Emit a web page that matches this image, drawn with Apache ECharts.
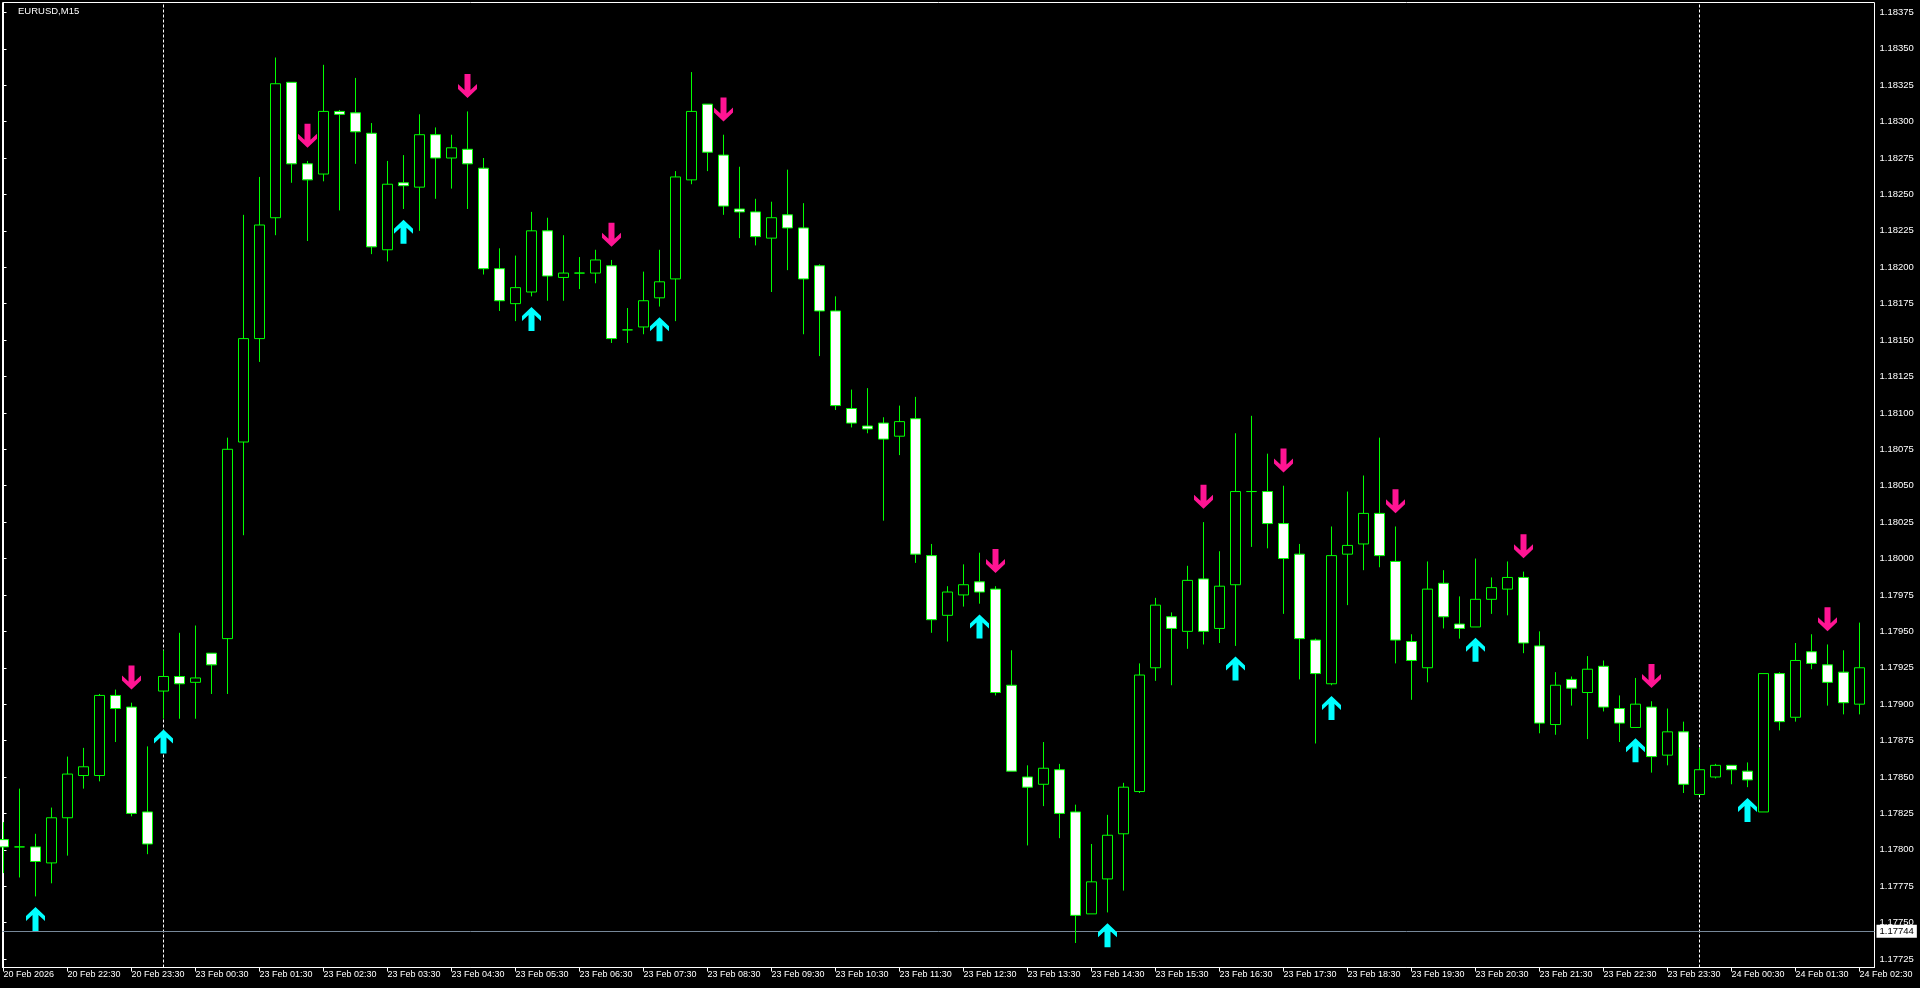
<!DOCTYPE html>
<html>
<head>
<meta charset="utf-8">
<script src="https://cdn.jsdelivr.net/npm/echarts@6/dist/echarts.min.js"></script>
<style>
html,body{margin:0;padding:0;background:#000;}
#chart{width:1920px;height:988px;}
</style>
</head>
<body>
<div id="chart"></div>
<script>
// ---- data (EURUSD, M15) ----
const opens = [
1.17807,1.17802,1.17802,1.17791,1.17822,1.17851,1.17851,1.17906,1.17898,1.17826,
1.17909,1.17919,1.17915,1.17935,1.17945,1.18080,1.18151,1.18234,1.18327,1.18271,
1.18264,1.18307,1.18306,1.18292,1.18212,1.18258,1.18255,1.18291,1.18275,1.18281,
1.18268,1.18199,1.18175,1.18183,1.18225,1.18193,1.18196,1.18196,1.18201,1.18157,
1.18159,1.18179,1.18192,1.18260,1.18312,1.18277,1.18240,1.18238,1.18220,1.18236,
1.18227,1.18201,1.18170,1.18103,1.18091,1.18093,1.18084,1.18096,1.18002,1.17961,
1.17975,1.17984,1.17979,1.17913,1.17850,1.17845,1.17855,1.17826,1.17756,1.17780,
1.17811,1.17840,1.17925,1.17960,1.17950,1.17986,1.17952,1.17982,1.18046,1.18046,
1.18024,1.18003,1.17944,1.17914,1.18003,1.18010,1.18031,1.17998,1.17943,1.17925,
1.17983,1.17955,1.17953,1.17972,1.17979,1.17987,1.17940,1.17886,1.17917,1.17908,
1.17926,1.17897,1.17884,1.17898,1.17865,1.17881,1.17838,1.17850,1.17858,1.17854,
1.17826,1.17921,1.17891,1.17936,1.17927,1.17922,1.17900];
const highs = [
1.17819,1.17842,1.17811,1.17829,1.17864,1.17870,1.17907,1.17910,1.17901,1.17871,
1.17937,1.17949,1.17954,1.17935,1.18083,1.18236,1.18262,1.18344,1.18327,1.18273,
1.18339,1.18308,1.18330,1.18299,1.18273,1.18277,1.18305,1.18296,1.18291,1.18307,
1.18275,1.18213,1.18208,1.18238,1.18234,1.18222,1.18207,1.18212,1.18205,1.18172,
1.18197,1.18212,1.18266,1.18334,1.18312,1.18291,1.18269,1.18247,1.18245,1.18267,
1.18244,1.18202,1.18180,1.18116,1.18117,1.18097,1.18105,1.18111,1.18010,1.17981,
1.17996,1.18004,1.17981,1.17937,1.17858,1.17874,1.17859,1.17831,1.17804,1.17824,
1.17846,1.17928,1.17973,1.17963,1.17995,1.18025,1.18005,1.18086,1.18098,1.18072,
1.18050,1.18010,1.17945,1.18022,1.18046,1.18057,1.18083,1.18022,1.17948,1.17998,
1.17992,1.17974,1.18000,1.17987,1.17998,1.17991,1.17950,1.17922,1.17919,1.17933,
1.17930,1.17906,1.17918,1.17902,1.17897,1.17888,1.17870,1.17859,1.17858,1.17860,
1.17921,1.17922,1.17942,1.17948,1.17941,1.17937,1.17956];
const lows = [
1.17784,1.17781,1.17768,1.17777,1.17796,1.17842,1.17847,1.17874,1.17823,1.17797,
1.17890,1.17890,1.17890,1.17907,1.17907,1.18016,1.18135,1.18222,1.18258,1.18218,
1.18259,1.18239,1.18271,1.18209,1.18204,1.18240,1.18225,1.18247,1.18254,1.18240,
1.18195,1.18170,1.18163,1.18180,1.18177,1.18177,1.18185,1.18189,1.18148,1.18148,
1.18154,1.18173,1.18163,1.18257,1.18266,1.18236,1.18220,1.18215,1.18183,1.18198,
1.18154,1.18139,1.18102,1.18090,1.18086,1.18026,1.18071,1.17997,1.17949,1.17943,
1.17967,1.17969,1.17906,1.17854,1.17803,1.17830,1.17808,1.17736,1.17756,1.17757,
1.17772,1.17839,1.17916,1.17913,1.17938,1.17941,1.17942,1.17940,1.18008,1.18007,
1.17962,1.17917,1.17873,1.17913,1.17968,1.17992,1.17994,1.17928,1.17903,1.17915,
1.17952,1.17945,1.17953,1.17962,1.17961,1.17935,1.17880,1.17879,1.17899,1.17876,
1.17895,1.17874,1.17884,1.17853,1.17858,1.17839,1.17838,1.17849,1.17845,1.17843,
1.17826,1.17882,1.17888,1.17924,1.17899,1.17893,1.17893];
const closes = [
1.17802,1.17802,1.17792,1.17822,1.17852,1.17857,1.17906,1.17897,1.17825,1.17804,
1.17919,1.17914,1.17918,1.17927,1.18075,1.18151,1.18229,1.18326,1.18271,1.18260,
1.18307,1.18305,1.18293,1.18214,1.18257,1.18256,1.18291,1.18275,1.18282,1.18271,
1.18199,1.18177,1.18186,1.18225,1.18194,1.18196,1.18196,1.18205,1.18151,1.18157,
1.18177,1.18190,1.18262,1.18307,1.18279,1.18242,1.18238,1.18221,1.18234,1.18227,
1.18192,1.18170,1.18105,1.18093,1.18089,1.18082,1.18094,1.18003,1.17958,1.17977,
1.17982,1.17977,1.17908,1.17854,1.17843,1.17856,1.17825,1.17755,1.17778,1.17810,
1.17843,1.17920,1.17968,1.17952,1.17985,1.17950,1.17981,1.18046,1.18046,1.18024,
1.18000,1.17945,1.17921,1.18002,1.18009,1.18031,1.18002,1.17944,1.17930,1.17979,
1.17960,1.17952,1.17972,1.17980,1.17987,1.17942,1.17887,1.17913,1.17911,1.17924,
1.17898,1.17887,1.17900,1.17864,1.17881,1.17845,1.17855,1.17858,1.17855,1.17848,
1.17921,1.17888,1.17930,1.17928,1.17915,1.17901,1.17925];

// signal arrows (bar indexes)
const upArrowBars   = [2, 10, 25, 33, 41, 61, 69, 77, 83, 92, 102, 109];
const downArrowBars = [8, 19, 29, 38, 45, 62, 75, 80, 87, 95, 103, 114];

// day separators (bar indexes) and bid line
const daySeparatorBars = [10, 106];
const bidPrice = 1.17744;

// x tick labels (one every 4 bars)
const xTickBars = [0,4,8,12,16,20,24,28,32,36,40,44,48,52,56,60,64,68,72,76,80,84,88,92,96,100,104,108,112,116];
const xTickLabels = [
'20 Feb 2026','20 Feb 22:30','20 Feb 23:30','23 Feb 00:30','23 Feb 01:30','23 Feb 02:30',
'23 Feb 03:30','23 Feb 04:30','23 Feb 05:30','23 Feb 06:30','23 Feb 07:30','23 Feb 08:30',
'23 Feb 09:30','23 Feb 10:30','23 Feb 11:30','23 Feb 12:30','23 Feb 13:30','23 Feb 14:30',
'23 Feb 15:30','23 Feb 16:30','23 Feb 17:30','23 Feb 18:30','23 Feb 19:30','23 Feb 20:30',
'23 Feb 21:30','23 Feb 22:30','23 Feb 23:30','24 Feb 00:30','24 Feb 01:30','24 Feb 02:30'];

// y tick labels
const yTickValues = [
1.17725,1.17750,1.17775,1.17800,1.17825,1.17850,1.17875,1.17900,1.17925,1.17950,
1.17975,1.18000,1.18025,1.18050,1.18075,1.18100,1.18125,1.18150,1.18175,1.18200,
1.18225,1.18250,1.18275,1.18300,1.18325,1.18350,1.18375];

// ---- chart ----
const FONT = '"Liberation Sans", Arial, sans-serif';
const Y_MIN = 1.1771919, Y_MAX = 1.1838178;
const X_MIN = -0.0625, X_MAX = 116.9375;
const UP_PATH = 'path://M9.5,0 L19,9 L19,14 L12.5,8 L12.5,24 L6.5,24 L6.5,8 L0,14 L0,9 Z';
const DOWN_PATH = 'path://M9.5,24 L19,15 L19,10 L12.5,16 L12.5,0 L6.5,0 L6.5,16 L0,10 L0,15 Z';

const candleData = opens.map((o, i) => [i, o, closes[i], lows[i], highs[i]]);
const tickLabelByBar = {};
xTickBars.forEach((b, k) => { tickLabelByBar[b] = xTickLabels[k]; });

const chart = echarts.init(document.getElementById('chart'), null, { renderer: 'canvas' });
chart.setOption({
  backgroundColor: '#000000',
  animation: false,
  title: {
    text: 'EURUSD,M15', left: 13, top: 1,
    textStyle: { color: '#ffffff', fontSize: 9.5, fontWeight: 'normal', fontFamily: FONT }
  },
  grid: {
    left: 2.5, right: 45.5, top: 2.5, bottom: 20.5,
    show: true, borderColor: '#ffffff', borderWidth: 1, backgroundColor: 'transparent'
  },
  xAxis: {
    type: 'value', min: X_MIN, max: X_MAX,
    axisLine: { show: true, onZero: false, lineStyle: { color: '#ffffff', width: 1 } },
    axisTick: { show: true, length: 4, customValues: xTickBars, lineStyle: { color: '#ffffff' } },
    axisLabel: {
      show: true, customValues: xTickBars, formatter: v => tickLabelByBar[Math.round(v)] || '',
      color: '#ffffff', fontSize: 9, fontFamily: FONT, align: 'left', margin: 3
    },
    splitLine: { show: false }
  },
  yAxis: {
    type: 'value', position: 'right', min: Y_MIN, max: Y_MAX, scale: true,
    axisLine: { show: true, lineStyle: { color: '#ffffff', width: 1 } },
    axisTick: { show: true, length: 3, customValues: yTickValues, lineStyle: { color: '#ffffff' } },
    axisLabel: {
      show: true, customValues: yTickValues, formatter: v => v.toFixed(5),
      color: '#ffffff', fontSize: 9.5, fontFamily: FONT, margin: 5
    },
    splitLine: { show: false }
  },
  series: [
    {
      type: 'candlestick',
      data: candleData,
      encode: { x: 0, y: [1, 2, 3, 4] },
      barWidth: 10,
      itemStyle: {
        color: '#000000', color0: '#ffffff',
        borderColor: '#00ff00', borderColor0: '#00ff00', borderColorDoji: '#00ff00',
        borderWidth: 1
      },
      z: 3
    },
    {
      type: 'scatter',
      data: upArrowBars.map(i => [i, lows[i]]),
      symbol: UP_PATH, symbolSize: [19, 24], symbolOffset: [0, 22.7],
      itemStyle: { color: '#00ffff', opacity: 1 },
      silent: true, z: 5,
      markLine: {
        silent: true, symbol: ['none', 'none'], animation: false, precision: 5,
        lineStyle: { color: '#778899', width: 1, type: 'solid' },
        label: {
          show: true, position: 'end', formatter: bidPrice.toFixed(5), distance: 2,
          color: '#000000', backgroundColor: '#ffffff', padding: [2, 3, 1, 3],
          fontSize: 9.5, fontFamily: FONT
        },
        data: [{ yAxis: bidPrice }],
        z: 2
      }
    },
    {
      type: 'scatter',
      data: downArrowBars.map(i => [i, highs[i]]),
      symbol: DOWN_PATH, symbolSize: [19, 24], symbolOffset: [0, -25.3],
      itemStyle: { color: '#ff1493', opacity: 1 },
      silent: true, z: 5,
      markLine: {
        silent: true, symbol: ['none', 'none'], animation: false, precision: 5,
        lineStyle: { color: '#ffffff', width: 1, type: [3, 2] },
        label: { show: false },
        data: daySeparatorBars.map(b => ({ xAxis: b })),
        z: 1
      }
    }
  ]
});
</script>
</body>
</html>
